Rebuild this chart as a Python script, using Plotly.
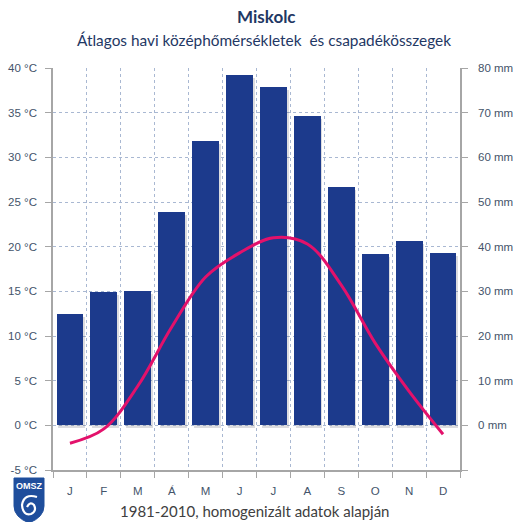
import plotly.graph_objects as go

# Monthly climate normals for Miskolc (1981-2010)
months = ["J", "F", "M", "Á", "M", "J", "J", "A", "S", "O", "N", "D"]
precip_mm = [24.9, 29.8, 30.0, 47.7, 63.6, 78.4, 75.7, 69.2, 53.3, 38.3, 41.2, 38.5]
temp_c = [-2.0, -0.4, 4.4, 11.0, 16.6, 19.3, 21.0, 20.3, 15.7, 9.2, 3.8, -1.0]

temp_ticks = list(range(-5, 41, 5))
precip_ticks = list(range(-10, 81, 10))

W, H = 515, 522
L, R, T, B = 53, 55, 68, 52
PW, PH = W - L - R, H - T - B


def px(x):
    return (x - L) / PW


def py(y):
    return (H - B - y) / PH


x_idx = list(range(len(months)))
bar_w = 0.79

fig = go.Figure()

# soft drop shadow behind the precipitation bars
fig.add_trace(go.Bar(
    x=x_idx, y=precip_mm, base=-0.7, yaxis="y",
    marker=dict(color="rgba(60,60,80,0.18)", line=dict(width=0)),
    width=bar_w, offset=-bar_w / 2 + 0.05, showlegend=False, hoverinfo="skip",
))

# precipitation bars on the base (right-hand, mm) axis
fig.add_trace(go.Bar(
    x=x_idx, y=precip_mm, yaxis="y",
    marker=dict(color="#1c3a8c", line=dict(width=0)),
    width=bar_w, offset=-bar_w / 2, showlegend=False,
))

# temperature curve on the overlaying (left-hand, °C) axis, drawn on top
fig.add_trace(go.Scatter(
    x=x_idx, y=temp_c, yaxis="y2", mode="lines",
    line=dict(color="#e3116b", width=3, shape="spline", smoothing=1.0),
    showlegend=False,
))

axis_col = "#a6a6a6"
grid_col = "#a9b8d2"
tick_font = dict(family="Liberation Sans", size=11.5, color="#44546a")

fig.update_layout(
    width=W, height=H,
    margin=dict(l=L, r=R, t=T, b=B, pad=0),
    paper_bgcolor="white", plot_bgcolor="white",
    barmode="overlay", bargap=0,
    xaxis=dict(
        range=[-0.5, 11.5], tickmode="array", tickvals=x_idx, ticktext=months,
        showgrid=False, ticks="", showline=True, linecolor=axis_col, linewidth=1.5,
        tickfont=tick_font,
        ticklabelstandoff=9, automargin=False,
        zeroline=False, fixedrange=True,
        minor=dict(tick0=-0.5, dtick=1, showgrid=True, gridcolor=grid_col,
                   griddash="dot", gridwidth=1, ticks="outside", ticklen=6,
                   tickcolor=axis_col, tickwidth=1),
    ),
    yaxis=dict(
        range=[-10, 80], side="right", tickmode="array",
        tickvals=precip_ticks,
        ticktext=["" if v < 0 else f"{v} mm" for v in precip_ticks],
        showgrid=True, gridcolor=grid_col, griddash="dot", gridwidth=1,
        showline=True, linecolor=axis_col, linewidth=1.5,
        ticks="outside", ticklen=6, tickcolor=axis_col,
        ticklabelstandoff=8, automargin=False,
        tickfont=tick_font, zeroline=False,
    ),
    yaxis2=dict(
        range=[-5, 40], overlaying="y", side="left", tickmode="array",
        tickvals=temp_ticks,
        ticktext=[f"{v} °C" for v in temp_ticks],
        showgrid=False,
        showline=True, linecolor=axis_col, linewidth=1.5,
        ticks="outside", ticklen=6, tickcolor=axis_col,
        ticklabelstandoff=6, automargin=False,
        tickfont=tick_font, zeroline=False,
    ),
)

fig.add_annotation(
    text="<b>Miskolc</b>", x=px(266), y=py(17), xref="paper", yref="paper",
    showarrow=False, xanchor="center", yanchor="middle",
    font=dict(family="Lato", size=17, color="#1f3864"),
)
fig.add_annotation(
    text="Átlagos havi középhőmérsékletek  és csapadékösszegek",
    x=px(264), y=py(40), xref="paper", yref="paper",
    showarrow=False, xanchor="center", yanchor="middle",
    font=dict(family="Lato", size=15.4, color="#1f3864"),
)
fig.add_annotation(
    text="1981-2010, homogenizált adatok alapján",
    x=px(254), y=py(511), xref="paper", yref="paper",
    showarrow=False, xanchor="center", yanchor="middle",
    font=dict(family="Lato", size=15, color="#404040"),
)

# OMSZ shield logo
shield = (f"M {px(14)},{py(478)} L {px(44)},{py(478)} L {px(44)},{py(506)} "
          f"Q {px(44)},{py(517)} {px(29)},{py(523)} "
          f"Q {px(14)},{py(517)} {px(14)},{py(506)} Z")
fig.add_shape(type="path", path=shield, xref="paper", yref="paper",
              fillcolor="#1f4e9c", line=dict(color="#1f4e9c", width=1), layer="above")
swirl = (f"M {px(37)},{py(497)} Q {px(24)},{py(493)} {px(22)},{py(505)} "
         f"Q {px(23)},{py(516)} {px(31)},{py(514)} "
         f"Q {px(37)},{py(511)} {px(34)},{py(505)} "
         f"Q {px(30)},{py(501)} {px(27)},{py(507)}")
fig.add_shape(type="path", path=swirl, xref="paper", yref="paper",
              line=dict(color="white", width=2.2), layer="above")
fig.add_annotation(
    text="<b>OMSZ</b>", x=px(29), y=py(486), xref="paper", yref="paper",
    showarrow=False, xanchor="center", yanchor="middle",
    font=dict(family="Liberation Sans", size=9, color="white"),
)

fig.write_html("out.html")
